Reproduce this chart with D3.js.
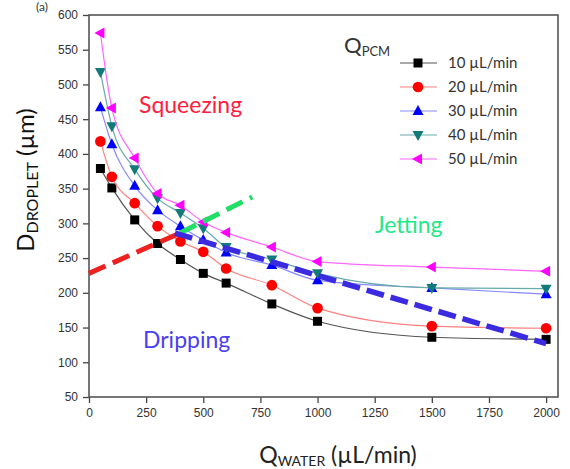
<!DOCTYPE html>
<html>
<head>
<meta charset="utf-8">
<script src="https://cdn.jsdelivr.net/npm/d3@7"></script>
<style>
  body { margin: 0; background: #fff; }
  svg { display: block; }
</style>
</head>
<body>
<svg id="chart" width="570" height="469"></svg>
<script>
'use strict';

// flow rates of the water phase (x) and droplet diameters per PCM flow rate
var qWater = [50, 100, 200, 300, 400, 500, 600, 800, 1000, 1500, 2000];
var d10 = [379, 351, 305, 271, 248, 228, 214, 184, 159, 136, 133];
var d20 = [418, 367, 329, 296, 274, 259, 235, 211, 178, 152, 149];
var d30 = [467, 414, 354, 319, 296, 276, 258, 240, 218, 207, 198];
var d40 = [518, 440, 378, 336, 315, 293, 266, 248, 228, 207, 206];
var d50 = [574, 466, 394, 343, 326, 302, 287, 266, 245, 237, 231];
var seriesNames = ["10 \u00b5L/min", "20 \u00b5L/min", "30 \u00b5L/min", "40 \u00b5L/min", "50 \u00b5L/min"];

// regime boundaries
var squeezeLine = [[0, 228], [398, 286]];
var jetLine = [[398, 286], [714, 338]];
var dripLine = [[376, 286], [2000, 127]];

var xTicks = [0, 250, 500, 750, 1000, 1250, 1500, 1750, 2000];
var yTicks = [50, 100, 150, 200, 250, 300, 350, 400, 450, 500, 550, 600];

var styles = [
	{ line: "#555555", fill: "#000000", shape: "square" },
	{ line: "#ff8080", fill: "#ff0000", shape: "circle" },
	{ line: "#8888ff", fill: "#0000ff", shape: "up" },
	{ line: "#66aaaa", fill: "#137a7a", shape: "down" },
	{ line: "#ff66ff", fill: "#ff00ff", shape: "left" }
];

var svg = d3.select("#chart");
var x = d3.scaleLinear().domain([0, 2052]).range([89, 558]);
var y = d3.scaleLinear().domain([50, 600]).range([397, 15]);

function markerPath(shape) {
	if (shape == "square") return "M-4.5,-4.5H4.5V4.5H-4.5Z";
	if (shape == "circle") return d3.symbol(d3.symbolCircle, 90)();
	if (shape == "up") return "M0,-6L5.5,4L-5.5,4Z";
	if (shape == "down") return "M0,6L5.5,-4L-5.5,-4Z";
	return "M-6,0L4,-5.5L4,5.5Z";
}

// axes with minor ticks
var xAxis = svg.append("g").attr("transform", "translate(0,397)");
xAxis.call(d3.axisBottom(x).tickValues(d3.range(125, 2052, 250)).tickSize(3).tickFormat(""));
xAxis.call(d3.axisBottom(x).tickValues(xTicks).tickSize(6).tickPadding(5).tickFormat(d3.format("d")));
var yAxis = svg.append("g").attr("transform", "translate(89,0)");
yAxis.call(d3.axisLeft(y).tickValues(d3.range(75, 600, 50)).tickSize(3).tickFormat(""));
yAxis.call(d3.axisLeft(y).tickValues(yTicks).tickSize(6).tickPadding(5).tickFormat(d3.format("d")));
svg.selectAll(".domain").remove();
svg.selectAll(".tick line").attr("stroke", "#444").attr("stroke-width", 1.3);
svg.selectAll(".tick text")
	.attr("font-family", "Liberation Sans")
	.attr("font-size", 12)
	.attr("fill", "#333");

// frame
svg.append("rect")
	.attr("x", 89).attr("y", 15)
	.attr("width", 558 - 89).attr("height", 397 - 15)
	.attr("fill", "none").attr("stroke", "#555").attr("stroke-width", 1.6);

var allSeries = [d10, d20, d30, d40, d50];
var line = d3.line()
	.x(function (d) { return x(d[0]); })
	.y(function (d) { return y(d[1]); })
	.curve(d3.curveMonotoneX);

allSeries.forEach(function (vals, i) {
	var pts = qWater.map(function (q, j) { return [q, vals[j]]; });
	svg.append("path")
		.attr("d", line(pts))
		.attr("fill", "none")
		.attr("stroke", styles[i].line)
		.attr("stroke-width", 1.2);
	svg.selectAll(".m" + i)
		.data(pts)
		.enter().append("path")
		.attr("class", "m" + i)
		.attr("transform", function (d) { return "translate(" + x(d[0]) + "," + y(d[1]) + ")"; })
		.attr("d", markerPath(styles[i].shape))
		.attr("fill", styles[i].fill);
});

// regime boundary dashes
var straight = d3.line()
	.x(function (d) { return x(d[0]); })
	.y(function (d) { return y(d[1]); });
svg.append("path").attr("d", straight(squeezeLine)).attr("fill", "none")
	.attr("stroke", "#ee2020").attr("stroke-width", 5).attr("stroke-dasharray", "18,8");
svg.append("path").attr("d", straight(jetLine)).attr("fill", "none")
	.attr("stroke", "#22dd66").attr("stroke-width", 5).attr("stroke-dasharray", "18,8");
svg.append("path").attr("d", straight(dripLine)).attr("fill", "none")
	.attr("stroke", "#3a2ae0").attr("stroke-width", 5.5).attr("stroke-dasharray", "18,7");

// regime labels
svg.append("text").attr("x", 139).attr("y", 113).text("Squeezing")
	.attr("font-family", "Lato").attr("font-size", 23).attr("fill", "#ff2040");
svg.append("text").attr("x", 375).attr("y", 233).text("Jetting")
	.attr("font-family", "Lato").attr("font-size", 23).attr("fill", "#22e888");
svg.append("text").attr("x", 143).attr("y", 348).text("Dripping")
	.attr("font-family", "Lato").attr("font-size", 23).attr("fill", "#4a40f0");

// legend
var qpcm = svg.append("text").attr("x", 344).attr("y", 53)
	.attr("font-family", "Lato").attr("font-size", 22).attr("fill", "#333");
qpcm.append("tspan").text("Q");
qpcm.append("tspan").attr("font-size", 13).attr("dy", 3).text("PCM");

var legendY = [63, 87, 111, 135, 159];
seriesNames.forEach(function (name, i) {
	var g = svg.append("g").attr("transform", "translate(0," + legendY[i] + ")");
	g.append("line").attr("x1", 400).attr("x2", 437)
		.attr("stroke", styles[i].line).attr("stroke-width", 1.2);
	g.append("path").attr("transform", "translate(418,0)")
		.attr("d", markerPath(styles[i].shape)).attr("fill", styles[i].fill);
	g.append("text").attr("x", 448).attr("y", 5).text(name)
		.attr("font-family", "Lato").attr("font-size", 15).attr("fill", "#333");
});

// axis titles
var xt = svg.append("text").attr("x", 338).attr("y", 463).attr("text-anchor", "middle")
	.attr("font-family", "Lato").attr("font-size", 23).attr("fill", "#222");
xt.append("tspan").text("Q");
xt.append("tspan").attr("font-size", 14).attr("dy", 3).text("WATER");
xt.append("tspan").attr("dy", -3).text(" (\u00b5L/min)");

var yt = svg.append("text").attr("transform", "translate(34,180) rotate(-90)")
	.attr("text-anchor", "middle")
	.attr("font-family", "Lato").attr("font-size", 24).attr("fill", "#111");
yt.append("tspan").text("D");
yt.append("tspan").attr("font-size", 16).attr("dy", 4).text("DROPLET");
yt.append("tspan").attr("dy", -4).text(" (\u00b5m)");

// panel letter at the top-left corner
svg.append("text").attr("x", 36).attr("y", 11).text("(a)")
	.attr("font-family", "Lato").attr("font-size", 12).attr("fill", "#333");
</script>
</body>
</html>
